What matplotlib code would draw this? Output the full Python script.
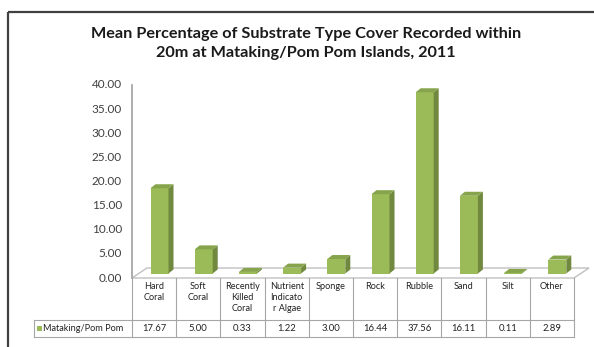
import matplotlib
matplotlib.use("Agg")
import matplotlib.pyplot as plt
from matplotlib.patches import Polygon, Rectangle

plt.rcParams['font.family'] = ['Lato', 'DejaVu Sans']

categories = ["Hard\nCoral", "Soft\nCoral", "Recently\nKilled\nCoral", "Nutrient\nIndicato\nr Algae",
              "Sponge", "Rock", "Rubble", "Sand", "Silt", "Other"]
values = [17.67, 5.00, 0.33, 1.22, 3.00, 16.44, 37.56, 16.11, 0.11, 2.89]
value_labels = ["17.67", "5.00", "0.33", "1.22", "3.00", "16.44", "37.56", "16.11", "0.11", "2.89"]
series_name = "Mataking/Pom Pom"
yticks = [0, 5, 10, 15, 20, 25, 30, 35, 40]

W, H = 594, 347
fig = plt.figure(figsize=(W / 100, H / 100), dpi=100)

# outer chart border (only left and top fall inside the image)
bg = fig.add_axes([0, 0, 1, 1])
bg.set_xlim(0, W)
bg.set_ylim(H, 0)
bg.axis('off')
bg.add_patch(Rectangle((8, 12), 620, 400, fill=False, edgecolor='#404040', lw=1.6))

# plot area in pixels
x0, x1 = 132, 574
y_top, y_zero = 85, 278
ax = fig.add_axes([x0 / W, (H - y_zero) / H, (x1 - x0) / W, (y_zero - y_top) / H])
n = len(values)
ax.set_xlim(0, n)
ax.set_ylim(0, 40)
ax.axis('off')
px_x = (x1 - x0) / n          # pixels per category
px_y = (y_zero - y_top) / 40  # pixels per unit

def ux(p):
    return p / px_x

def uy(p):
    return p / px_y

grid = '#a6a6a6'

# y axis line and labels
ax.plot([0, 0], [0, 40], color='#a0a0a0', lw=1.2, clip_on=False)
for t in yticks:
    ax.text(ux(-10), t, "%.2f" % t, ha='right', va='center', fontsize=8.5, color='#404040')

# floor
fdx, fdy = ux(15), uy(10)
ax.add_patch(Polygon([(0, 0), (n, 0), (n + fdx, fdy), (fdx, fdy)], closed=True,
                     facecolor='none', edgecolor='#c0c0c0', lw=1.0, clip_on=False))

# bars with 3d look
front = '#9bbb59'
side = '#71893f'
top = '#86a44b'
bw = ux(18)
off = ux(18.5)
bdx, bdy = ux(5), uy(4)
base = uy(4.5)
for i, v in enumerate(values):
    bx = i + off
    ax.bar(bx, v, width=bw, bottom=base, align='edge', color=front, edgecolor='none', zorder=3)
    ax.add_patch(Polygon([(bx + bw, base), (bx + bw, base + v), (bx + bw + bdx, base + v + bdy),
                          (bx + bw + bdx, base + bdy)], closed=True, facecolor=side, edgecolor='none', zorder=3))
    ax.add_patch(Polygon([(bx, base + v), (bx + bw, base + v), (bx + bw + bdx, base + v + bdy),
                          (bx + bdx, base + v + bdy)], closed=True, facecolor=top, edgecolor='none', zorder=3))

# data table below
hdr_bot = -uy(320 - y_zero)
row_bot = -uy(337 - y_zero)
lbl_left = -ux(x0 - 34)
for i in range(n + 1):
    ax.plot([i, i], [0, row_bot], color=grid, lw=0.8, clip_on=False)
ax.plot([lbl_left, n], [hdr_bot, hdr_bot], color=grid, lw=0.8, clip_on=False)
ax.plot([lbl_left, n], [row_bot, row_bot], color=grid, lw=0.8, clip_on=False)
ax.plot([lbl_left, lbl_left], [hdr_bot, row_bot], color=grid, lw=0.8, clip_on=False)

for i, (c, lab) in enumerate(zip(categories, value_labels)):
    ax.text(i + 0.5, -uy(4), c, ha='center', va='top', fontsize=6.6, color='#222222',
            linespacing=1.3, clip_on=False)
    ax.text(i + 0.5, (hdr_bot + row_bot) / 2, lab, ha='center', va='center', fontsize=6.8,
            color='#222222', clip_on=False)

mid = (hdr_bot + row_bot) / 2
ax.add_patch(Rectangle((lbl_left + ux(3), mid - uy(2.5)), ux(5), uy(5), facecolor=front,
                       edgecolor='none', clip_on=False))
ax.text(lbl_left + ux(9), mid, series_name, ha='left', va='center', fontsize=6.6,
        color='#222222', clip_on=False)

# title
fig.text(306 / W, 1 - 34 / H, "Mean Percentage of Substrate Type Cover Recorded within",
         ha='center', va='center', fontsize=11.7, fontweight='bold', color='#1a1a1a')
fig.text(306 / W, 1 - 53 / H, "20m at Mataking/Pom Pom Islands, 2011",
         ha='center', va='center', fontsize=11.7, fontweight='bold', color='#1a1a1a')

fig.savefig("out.png", dpi=100)
